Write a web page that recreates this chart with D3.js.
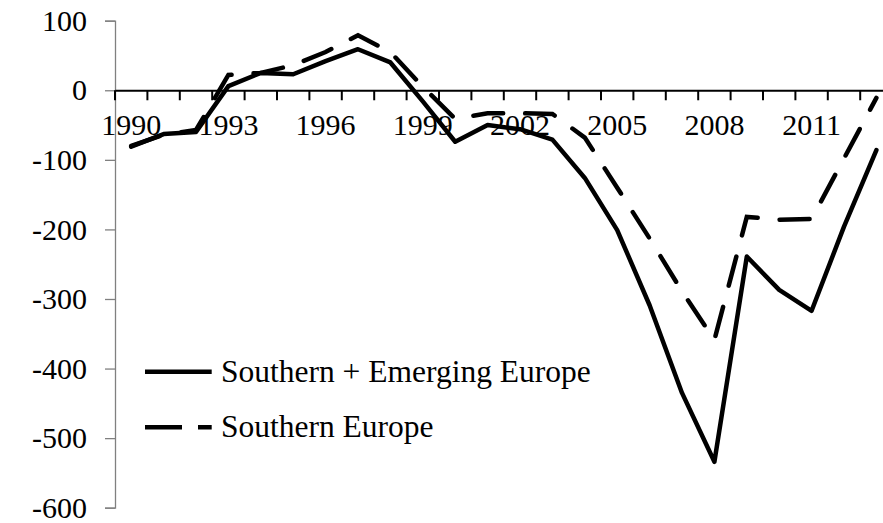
<!DOCTYPE html>
<html><head><meta charset="utf-8">
<script src="https://cdn.jsdelivr.net/npm/d3@7"></script>
<style>
@font-face{font-family:"ChartSerif";src:local("Liberation Serif"),local("LiberationSerif"),local("Liberation Serif Regular"),local("Times New Roman"),local("Tinos");}
body{margin:0}
svg text{font-family:"Liberation Serif","ChartSerif",serif !important;}
</style>
</head><body>
<svg id="c" width="883" height="523"></svg>
<script>
const years = [1990,1991,1992,1993,1994,1995,1996,1997,1998,1999,2000,2001,2002,2003,2004,2005,2006,2007,2008,2009,2010,2011,2012,2013];
const southernEmerging = [-81,-63,-60,6,25,23,42,59,40,-16,-74,-50,-56,-71,-126,-201,-309,-435,-534,-239,-287,-317,-196,-86];
const southern = [-80,-64,-57,22,25,36,55,79,55,5,-41,-33,-33,-34,-68,-140,-213,-289,-359,-182,-186,-185,-98,-11];
const yTicks = [100,0,-100,-200,-300,-400,-500,-600];
const xLabelYears = [1990,1993,1996,1999,2002,2005,2008,2011];
const seriesNames = ["Southern + Emerging Europe","Southern Europe"];

const svg = d3.select("#c").style("display","block");
const x = d3.scaleBand().domain(years).range([115, 892.6]);
const y = d3.scaleLinear().domain([-600,100]).range([507.7, 20.7]);

function serif(sel, size){
  sel.style("font-family","'Liberation Serif', ChartSerif, serif").style("font-size",size+"px").attr("fill","#000");
}

// y axis
const ya = svg.append("g").attr("transform","translate(115,0)")
  .call(d3.axisLeft(y).tickValues(yTicks).tickSize(10).tickPadding(18).tickFormat(d => String(d)));
ya.attr("font-family","Liberation Serif").attr("font-size",30);
ya.select(".domain").attr("stroke","#808080").attr("stroke-width",1.3);
ya.selectAll(".tick line").attr("stroke","#808080").attr("stroke-width",1.3);
ya.selectAll("text").call(serif,30).attr("dy","0.32em");

// x axis at zero
const xa = svg.append("g").attr("transform",`translate(0,${y(0)})`)
  .call(d3.axisBottom(x).tickValues(xLabelYears).tickSize(0).tickPadding(23).tickFormat(d => String(d)));
xa.attr("font-family","Liberation Serif").attr("font-size",30);
xa.select(".domain").attr("stroke","#000").attr("stroke-width",2.2);
xa.selectAll("text").call(serif,30);
// tick marks between categories
const bounds = d3.range(years.length+1).map(i => x.range()[0] + i*x.step());
svg.append("g").selectAll("line").data(bounds).join("line")
  .attr("x1",d=>d).attr("x2",d=>d).attr("y1",y(0)).attr("y2",y(0)+10)
  .attr("stroke","#000").attr("stroke-width",2);

const line = d3.line().x((d,i)=>x(years[i])+x.bandwidth()/2).y(d=>y(d));
svg.append("path").datum(southernEmerging).attr("d",line)
  .attr("fill","none").attr("stroke","#000").attr("stroke-width",4.5).attr("stroke-linejoin","round").attr("stroke-linecap","round");
svg.append("path").datum(southern).attr("d",line)
  .attr("fill","none").attr("stroke","#000").attr("stroke-width",4.5).attr("stroke-dasharray","30,22").attr("stroke-linecap","round");

// legend
const items = [{name:seriesNames[0],dash:null,y:371.7},{name:seriesNames[1],dash:"37,16",y:427.3}];
items.forEach(it=>{
  svg.append("line").attr("x1",145).attr("x2",211.7).attr("y1",it.y).attr("y2",it.y)
    .attr("stroke","#000").attr("stroke-width",4.5).attr("stroke-dasharray",it.dash);
  svg.append("text").attr("x",221).attr("y",it.y+10).call(serif,31.5).text(it.name);
});
</script></body></html>
